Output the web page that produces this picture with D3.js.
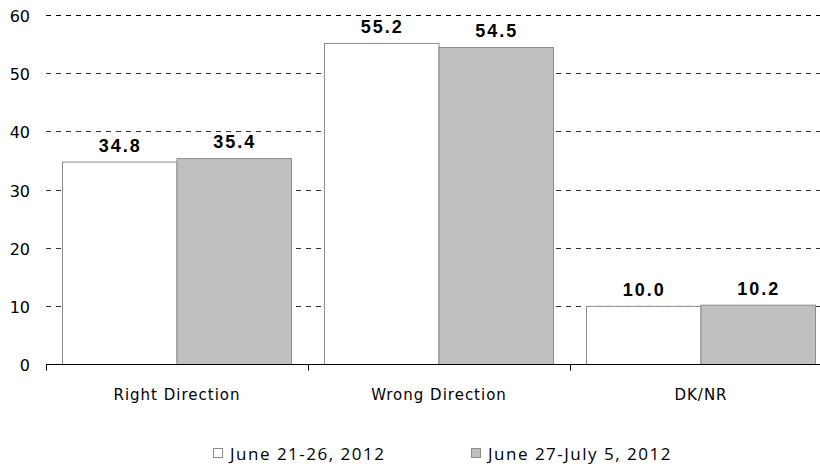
<!DOCTYPE html>
<html>
<head>
<meta charset="utf-8">
<script src="https://cdn.jsdelivr.net/npm/d3@7"></script>
<style>
  body { margin: 0; background: #fff; }
  svg { display: block; }
</style>
</head>
<body>
<div id="chart"></div>
<script>
// categories and series
var categories = ["Right Direction", "Wrong Direction", "DK/NR"];
var seriesNames = ["June 21-26, 2012", "June 27-July 5, 2012"];
var june21 = [34.8, 55.2, 10.0];
var june27 = [35.4, 54.5, 10.2];
var yTicks = [0, 10, 20, 30, 40, 50, 60];

function main() {
  var W = 820, H = 466;
  var margin = {top: 15, left: 46, bottom: 102};
  var plotBottom = H - margin.bottom;

  var svg = d3.select("#chart").append("svg")
    .attr("width", W)
    .attr("height", H);

  var y = d3.scaleLinear().domain([0, 60]).range([plotBottom, margin.top]);

  // bands are wider than what fits, the last group runs to the edge
  var x = d3.scaleBand().domain(categories).range([margin.left, 832])
    .paddingInner(0).paddingOuter(0);
  var inner = d3.scaleBand().domain(seriesNames).range([16, x.bandwidth() - 17]).padding(0);

  // dashed grid
  svg.append("g")
    .selectAll("line")
    .data(yTicks.filter(function(d){ return d > 0; }))
    .enter().append("line")
      .attr("x1", margin.left)
      .attr("x2", W)
      .attr("y1", function(d){ return Math.round(y(d)) + 0.5; })
      .attr("y2", function(d){ return Math.round(y(d)) + 0.5; })
      .attr("stroke", function(d){ return d == 60 ? "#000" : "#333"; })
      .attr("stroke-width", 1)
      .attr("stroke-dasharray", "5,5");

  // y tick labels
  svg.append("g")
    .selectAll("text")
    .data(yTicks)
    .enter().append("text")
      .attr("x", 30)
      .attr("y", function(d){ return y(d) + 7; })
      .attr("text-anchor", "end")
      .attr("font-family", "DejaVu Sans")
      .attr("font-size", "16px")
      .attr("fill", "#000")
      .text(function(d){ return d; });

  var series = [
    {name: seriesNames[0], values: june21, fill: "#ffffff", stroke: "#8c8c8c"},
    {name: seriesNames[1], values: june27, fill: "#c0c0c0", stroke: "#8c8c8c"}
  ];

  series.forEach(function(s) {
    var g = svg.append("g");
    g.selectAll("rect")
      .data(categories)
      .enter().append("rect")
        .attr("x", function(c){ return x(c) + inner(s.name) + 0.5; })
        .attr("y", function(c, i){ return y(s.values[i]) + 0.5; })
        .attr("width", inner.bandwidth())
        .attr("height", function(c, i){ return plotBottom - y(s.values[i]); })
        .attr("fill", s.fill)
        .attr("stroke", s.stroke)
        .attr("stroke-width", 1);

    g.selectAll("text")
      .data(categories)
      .enter().append("text")
        .attr("x", function(c){ return x(c) + inner(s.name) + inner.bandwidth() / 2 + 1; })
        .attr("y", function(c, i){ return y(s.values[i]) - 10; })
        .attr("text-anchor", "middle")
        .attr("font-family", "Liberation Sans, Arial")
        .attr("font-weight", "bold")
        .attr("font-size", "18px")
        .attr("letter-spacing", "2px")
        .attr("fill", "#000")
        .text(function(c, i){ return s.values[i].toFixed(1); });
  });

  // x axis
  var xAxis = svg.append("g")
    .attr("transform", "translate(0," + (Math.round(plotBottom) + 0.5) + ")");
  xAxis.append("line")
    .attr("x1", margin.left).attr("x2", W)
    .attr("stroke", "#000");
  xAxis.selectAll("line.tick")
    .data([margin.left].concat(categories.map(function(c){ return x(c) + x.bandwidth(); })))
    .enter().append("line")
      .attr("class", "tick")
      .attr("x1", function(d){ return Math.round(d) + 0.5; })
      .attr("x2", function(d){ return Math.round(d) + 0.5; })
      .attr("y1", 0).attr("y2", 6)
      .attr("stroke", "#000");
  xAxis.selectAll("text")
    .data(categories)
    .enter().append("text")
      .attr("x", function(c){ return x(c) + x.bandwidth() / 2; })
      .attr("y", 35)
      .attr("text-anchor", "middle")
      .attr("font-family", "DejaVu Sans")
      .attr("font-size", "15px")
      .attr("letter-spacing", "1px")
      .attr("fill", "#000")
      .text(function(c){ return c; });

  // legend
  var legendX = [213, 471];
  var legend = svg.append("g");
  series.forEach(function(s, i) {
    legend.append("rect")
      .attr("x", legendX[i] + 0.5).attr("y", 448.5)
      .attr("width", 9).attr("height", 9)
      .attr("fill", s.fill)
      .attr("stroke", "#8c8c8c");
    legend.append("text")
      .attr("x", legendX[i] + 17)
      .attr("y", 460)
      .attr("font-family", "Open Sans")
      .attr("font-size", "17px")
      .attr("letter-spacing", "1.5px")
      .attr("fill", "#000")
      .text(s.name);
  });
}
main();
</script>
</body>
</html>
